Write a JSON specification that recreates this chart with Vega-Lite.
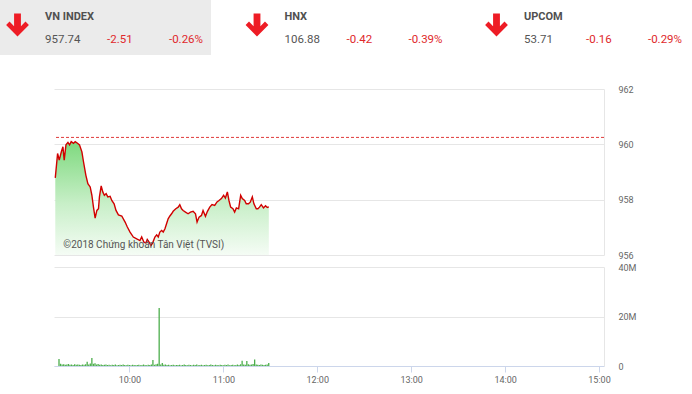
{
  "$schema": "https://vega.github.io/schema/vega-lite/v6.json",
  "padding": 0,
  "background": "#ffffff",
  "config": {"view": {"stroke": null}, "font": "Roboto", "axis": {"labelFont": "Roboto"}},
  "datasets": {
    "header": [
      {"idx": "VN INDEX", "val": "957.74", "chg": "-2.51", "pct": "-0.26%"},
      {"idx": "HNX", "val": "106.88", "chg": "-0.42", "pct": "-0.39%"},
      {"idx": "UPCOM", "val": "53.71", "chg": "-0.16", "pct": "-0.29%"}
    ],
    "price": [
      {"t": "09:15:48", "v": 958.79}, {"t": "09:17:15", "v": 959.67}, {"t": "09:18:18", "v": 959.43}, {"t": "09:19:36", "v": 959.73},
      {"t": "09:20:36", "v": 959.91}, {"t": "09:21:24", "v": 959.43}, {"t": "09:22:30", "v": 959.98}, {"t": "09:23:45", "v": 960.07},
      {"t": "09:24:45", "v": 959.98}, {"t": "09:25:48", "v": 960.10}, {"t": "09:27:15", "v": 960.04}, {"t": "09:28:18", "v": 960.10},
      {"t": "09:29:45", "v": 960.04}, {"t": "09:31:00", "v": 959.98}, {"t": "09:32:30", "v": 959.73}, {"t": "09:33:30", "v": 959.37},
      {"t": "09:35:00", "v": 958.88}, {"t": "09:36:15", "v": 958.58}, {"t": "09:37:42", "v": 958.46}, {"t": "09:38:45", "v": 958.16},
      {"t": "09:39:45", "v": 957.73}, {"t": "09:40:48", "v": 957.33}, {"t": "09:41:54", "v": 957.61}, {"t": "09:42:54", "v": 957.67},
      {"t": "09:43:30", "v": 958.10}, {"t": "09:44:36", "v": 958.50}, {"t": "09:45:36", "v": 958.28}, {"t": "09:46:36", "v": 958.16},
      {"t": "09:47:42", "v": 958.22}, {"t": "09:48:45", "v": 958.10}, {"t": "09:50:12", "v": 958.12}, {"t": "09:51:15", "v": 957.97},
      {"t": "09:52:42", "v": 957.85}, {"t": "09:53:54", "v": 957.61}, {"t": "09:55:24", "v": 957.45}, {"t": "09:57:30", "v": 957.41},
      {"t": "09:59:36", "v": 957.19}, {"t": "10:01:00", "v": 957.01}, {"t": "10:02:42", "v": 956.83}, {"t": "10:04:45", "v": 956.65},
      {"t": "10:06:54", "v": 956.58}, {"t": "10:08:54", "v": 956.52}, {"t": "10:10:00", "v": 956.65}, {"t": "10:11:24", "v": 956.46},
      {"t": "10:12:42", "v": 956.44}, {"t": "10:13:30", "v": 956.56}, {"t": "10:14:45", "v": 956.46}, {"t": "10:15:48", "v": 956.34},
      {"t": "10:16:54", "v": 956.44}, {"t": "10:18:18", "v": 956.65}, {"t": "10:19:24", "v": 956.73}, {"t": "10:20:24", "v": 956.65},
      {"t": "10:21:24", "v": 956.83}, {"t": "10:22:30", "v": 956.89}, {"t": "10:23:30", "v": 956.83}, {"t": "10:24:36", "v": 956.95},
      {"t": "10:25:36", "v": 957.13}, {"t": "10:26:36", "v": 957.31}, {"t": "10:27:42", "v": 957.41}, {"t": "10:28:45", "v": 957.49},
      {"t": "10:29:45", "v": 957.58}, {"t": "10:31:24", "v": 957.67}, {"t": "10:32:54", "v": 957.73}, {"t": "10:33:54", "v": 957.82},
      {"t": "10:35:00", "v": 957.67}, {"t": "10:36:00", "v": 957.61}, {"t": "10:37:30", "v": 957.55}, {"t": "10:39:06", "v": 957.49},
      {"t": "10:40:36", "v": 957.55}, {"t": "10:42:15", "v": 957.58}, {"t": "10:43:45", "v": 957.49}, {"t": "10:44:45", "v": 957.19},
      {"t": "10:46:00", "v": 957.37}, {"t": "10:47:30", "v": 957.43}, {"t": "10:48:30", "v": 957.61}, {"t": "10:50:00", "v": 957.40},
      {"t": "10:51:15", "v": 957.58}, {"t": "10:52:42", "v": 957.73}, {"t": "10:54:06", "v": 957.82}, {"t": "10:55:48", "v": 957.79},
      {"t": "10:57:15", "v": 957.92}, {"t": "10:58:30", "v": 957.97}, {"t": "11:00:00", "v": 958.04}, {"t": "11:01:24", "v": 958.16},
      {"t": "11:02:30", "v": 958.06}, {"t": "11:03:45", "v": 958.28}, {"t": "11:04:45", "v": 957.97}, {"t": "11:05:48", "v": 957.73},
      {"t": "11:07:15", "v": 957.67}, {"t": "11:08:18", "v": 957.55}, {"t": "11:09:24", "v": 957.70}, {"t": "11:10:48", "v": 957.67},
      {"t": "11:12:06", "v": 958.16}, {"t": "11:13:06", "v": 958.04}, {"t": "11:14:36", "v": 957.97}, {"t": "11:15:36", "v": 957.85},
      {"t": "11:17:00", "v": 957.85}, {"t": "11:18:06", "v": 957.91}, {"t": "11:19:24", "v": 958.10}, {"t": "11:20:24", "v": 957.85},
      {"t": "11:21:54", "v": 957.67}, {"t": "11:22:54", "v": 957.67}, {"t": "11:23:54", "v": 957.73}, {"t": "11:25:00", "v": 957.82},
      {"t": "11:26:24", "v": 957.70}, {"t": "11:27:42", "v": 957.78}, {"t": "11:28:45", "v": 957.72}, {"t": "11:29:45", "v": 957.74}
    ],
    "vol": [
      {"t": "09:15", "m": 2.8}, {"t": "09:16", "m": 0.9}, {"t": "09:17", "m": 0.6}, {"t": "09:18", "m": 0.7}, {"t": "09:19", "m": 0.5},
      {"t": "09:20", "m": 0.6}, {"t": "09:21", "m": 0.8}, {"t": "09:22", "m": 0.5}, {"t": "09:23", "m": 0.6}, {"t": "09:24", "m": 0.4},
      {"t": "09:25", "m": 0.7}, {"t": "09:26", "m": 0.5}, {"t": "09:27", "m": 0.6}, {"t": "09:28", "m": 0.5}, {"t": "09:29", "m": 0.4},
      {"t": "09:30", "m": 0.6}, {"t": "09:31", "m": 0.5}, {"t": "09:32", "m": 0.7}, {"t": "09:33", "m": 1.7}, {"t": "09:34", "m": 0.6},
      {"t": "09:35", "m": 1.0}, {"t": "09:36", "m": 3.2}, {"t": "09:37", "m": 0.9}, {"t": "09:38", "m": 1.1}, {"t": "09:39", "m": 0.6},
      {"t": "09:40", "m": 0.8}, {"t": "09:41", "m": 0.5}, {"t": "09:42", "m": 0.6}, {"t": "09:43", "m": 0.4}, {"t": "09:44", "m": 0.5},
      {"t": "09:45", "m": 0.6}, {"t": "09:46", "m": 0.4}, {"t": "09:47", "m": 0.5}, {"t": "09:48", "m": 0.3}, {"t": "09:49", "m": 0.5},
      {"t": "09:50", "m": 0.4}, {"t": "09:51", "m": 0.6}, {"t": "09:52", "m": 0.3}, {"t": "09:53", "m": 0.4}, {"t": "09:54", "m": 0.5},
      {"t": "09:55", "m": 0.4}, {"t": "09:56", "m": 0.6}, {"t": "09:57", "m": 0.4}, {"t": "09:58", "m": 0.3}, {"t": "09:59", "m": 0.5},
      {"t": "10:00", "m": 0.4}, {"t": "10:01", "m": 0.3}, {"t": "10:02", "m": 0.5}, {"t": "10:03", "m": 0.4}, {"t": "10:04", "m": 0.3},
      {"t": "10:05", "m": 0.4}, {"t": "10:06", "m": 0.5}, {"t": "10:07", "m": 0.3}, {"t": "10:08", "m": 0.4}, {"t": "10:09", "m": 0.6},
      {"t": "10:10", "m": 0.4}, {"t": "10:11", "m": 0.3}, {"t": "10:12", "m": 0.5}, {"t": "10:13", "m": 0.4}, {"t": "10:14", "m": 0.6},
      {"t": "10:15", "m": 2.4}, {"t": "10:16", "m": 0.5}, {"t": "10:17", "m": 0.7}, {"t": "10:18", "m": 0.9}, {"t": "10:19", "m": 23.4},
      {"t": "10:20", "m": 0.6}, {"t": "10:21", "m": 1.2}, {"t": "10:22", "m": 0.5}, {"t": "10:23", "m": 0.6}, {"t": "10:24", "m": 0.4},
      {"t": "10:25", "m": 0.5}, {"t": "10:26", "m": 0.3}, {"t": "10:27", "m": 0.4}, {"t": "10:28", "m": 0.5}, {"t": "10:29", "m": 0.3},
      {"t": "10:30", "m": 0.4}, {"t": "10:31", "m": 0.4}, {"t": "10:32", "m": 0.5}, {"t": "10:33", "m": 0.3}, {"t": "10:34", "m": 0.4},
      {"t": "10:35", "m": 0.6}, {"t": "10:36", "m": 0.4}, {"t": "10:37", "m": 0.3}, {"t": "10:38", "m": 0.5}, {"t": "10:39", "m": 0.4},
      {"t": "10:40", "m": 0.3}, {"t": "10:41", "m": 0.5}, {"t": "10:42", "m": 0.4}, {"t": "10:43", "m": 0.6}, {"t": "10:44", "m": 0.3},
      {"t": "10:45", "m": 0.4}, {"t": "10:46", "m": 0.5}, {"t": "10:47", "m": 0.3}, {"t": "10:48", "m": 0.4}, {"t": "10:49", "m": 0.5},
      {"t": "10:50", "m": 0.3}, {"t": "10:51", "m": 0.4}, {"t": "10:52", "m": 0.6}, {"t": "10:53", "m": 0.4}, {"t": "10:54", "m": 0.3},
      {"t": "10:55", "m": 0.5}, {"t": "10:56", "m": 0.4}, {"t": "10:57", "m": 0.3}, {"t": "10:58", "m": 0.5}, {"t": "10:59", "m": 0.4},
      {"t": "11:00", "m": 0.3}, {"t": "11:01", "m": 0.5}, {"t": "11:02", "m": 0.4}, {"t": "11:03", "m": 0.6}, {"t": "11:04", "m": 0.3},
      {"t": "11:05", "m": 0.4}, {"t": "11:06", "m": 0.5}, {"t": "11:07", "m": 0.3}, {"t": "11:08", "m": 0.4}, {"t": "11:09", "m": 0.6},
      {"t": "11:10", "m": 0.4}, {"t": "11:11", "m": 0.7}, {"t": "11:12", "m": 2.1}, {"t": "11:13", "m": 0.6}, {"t": "11:14", "m": 0.5},
      {"t": "11:15", "m": 2.0}, {"t": "11:16", "m": 0.7}, {"t": "11:17", "m": 0.5}, {"t": "11:18", "m": 0.6}, {"t": "11:19", "m": 0.8},
      {"t": "11:20", "m": 2.6}, {"t": "11:21", "m": 0.6}, {"t": "11:22", "m": 0.5}, {"t": "11:23", "m": 0.4}, {"t": "11:24", "m": 0.6},
      {"t": "11:25", "m": 0.5}, {"t": "11:26", "m": 0.4}, {"t": "11:27", "m": 0.5}, {"t": "11:28", "m": 0.6}, {"t": "11:29", "m": 1.2}
    ]
  },
  "spacing": 30,
  "vconcat": [
    {
      "width": 550,
      "height": 55,
      "data": {"name": "header"},
      "layer": [
        {
          "transform": [{"filter": "datum.idx === 'VN INDEX'"}],
          "mark": {"type": "bar", "width": 211, "xOffset": -14.25, "color": "#ebebeb"},
          "encoding": {
            "x": {"field": "idx", "type": "nominal", "axis": null,
                  "scale": {"domain": ["VN INDEX", "HNX", "UPCOM"], "range": [-54, 664.5], "paddingInner": 0, "paddingOuter": 0}}
          }
        },
        {
          "mark": {"type": "point", "shape": "M-0.3,-1 L0.3,-1 L0.3,0.12 L0.7,-0.3 L1,0 L0,1 L-1,0 L-0.7,-0.3 L-0.3,0.12 Z",
                   "size": 520, "filled": true, "color": "#ee1c25", "opacity": 1, "strokeWidth": 0, "xOffset": 17.5, "yOffset": -2.5},
          "encoding": {"x": {"field": "idx", "type": "nominal", "bandPosition": 0, "axis": null}}
        },
        {
          "mark": {"type": "text", "align": "left", "baseline": "middle", "dx": 45, "dy": -11, "fontSize": 11, "fontWeight": "bold", "color": "#505050"},
          "encoding": {"x": {"field": "idx", "type": "nominal", "bandPosition": 0, "axis": null}, "text": {"field": "idx"}}
        },
        {
          "mark": {"type": "text", "align": "left", "baseline": "middle", "dx": 45, "dy": 12.5, "fontSize": 11.5, "color": "#555555"},
          "encoding": {"x": {"field": "idx", "type": "nominal", "bandPosition": 0, "axis": null}, "text": {"field": "val"}}
        },
        {
          "mark": {"type": "text", "align": "left", "baseline": "middle", "dx": 107, "dy": 12.5, "fontSize": 11.5, "color": "#e0282b"},
          "encoding": {"x": {"field": "idx", "type": "nominal", "bandPosition": 0, "axis": null}, "text": {"field": "chg"}}
        },
        {
          "mark": {"type": "text", "align": "right", "baseline": "middle", "dx": 203, "dy": 12.5, "fontSize": 11.5, "color": "#e0282b"},
          "encoding": {"x": {"field": "idx", "type": "nominal", "bandPosition": 0, "axis": null}, "text": {"field": "pct"}}
        }
      ]
    },
    {
      "spacing": 12,
      "bounds": "flush",
      "vconcat": [
        {
          "width": 550,
          "height": 166,
          "layer": [
            {
              "data": {"name": "price", "format": {"parse": {"t": "utc:'%H:%M:%S'"}}},
              "layer": [
                {
                  "mark": {"type": "area", "fill": {"gradient": "linear", "x1": 0, "y1": 0, "x2": 0, "y2": 1,
                            "stops": [{"offset": 0, "color": "#7ed97e"}, {"offset": 0.55, "color": "#c8efc8"}, {"offset": 1, "color": "#f5fcf5"}]}},
                  "encoding": {
                    "x": {"field": "t", "type": "temporal"},
                    "y": {"field": "v", "type": "quantitative"},
                    "y2": {"datum": 956}
                  }
                },
                {
                  "mark": {"type": "line", "color": "#d10000", "strokeWidth": 1.4},
                  "encoding": {
                    "x": {"field": "t", "type": "temporal"},
                    "y": {"field": "v", "type": "quantitative"}
                  }
                }
              ]
            },
            {
              "data": {"values": [{"ref": 960.25}]},
              "mark": {"type": "rule", "stroke": "#e03c3c", "color": "#e03c3c", "strokeDash": [3, 2], "strokeWidth": 1},
              "encoding": {"y": {"field": "ref", "type": "quantitative"}}
            },
            {
              "data": {"values": [{"note": "©2018 Chứng khoán Tân Việt (TVSI)"}]},
              "mark": {"type": "text", "align": "left", "baseline": "middle", "fontSize": 10, "color": "#555555"},
              "encoding": {
                "text": {"field": "note"},
                "x": {"datum": {"year": 1900, "month": 1, "date": 1, "hours": 9, "minutes": 20, "seconds": 50, "utc": true}, "type": "temporal"},
                "y": {"datum": 956.35, "type": "quantitative"}
              }
            }
          ],
          "encoding": {
            "x": {"type": "temporal", "axis": null,
                  "scale": {"type": "utc", "domain": [{"year": 1900, "month": 1, "date": 1, "hours": 9, "minutes": 15, "utc": true}, {"year": 1900, "month": 1, "date": 1, "hours": 15, "minutes": 0, "utc": true}]}},
            "y": {"type": "quantitative", "title": null,
                  "scale": {"domain": [956, 962], "zero": false, "nice": false},
                  "axis": {"orient": "right", "values": [956, 958, 960, 962], "grid": true, "gridColor": "#e6e6e6", "domain": true, "domainColor": "#e6e6e6",
                           "ticks": false, "tickSize": 0, "labelPadding": 14, "labelFontSize": 9, "labelColor": "#666666", "labelBaseline": "middle"}}
          }
        },
        {
          "width": 550,
          "height": 99,
          "data": {"name": "vol", "format": {"parse": {"t": "utc:'%H:%M'"}}},
          "mark": {"type": "bar", "width": 1.3, "color": "#4cae4c"},
          "encoding": {
            "x": {"field": "t", "type": "temporal", "title": null,
                  "scale": {"type": "utc", "domain": [{"year": 1900, "month": 1, "date": 1, "hours": 9, "minutes": 15, "utc": true}, {"year": 1900, "month": 1, "date": 1, "hours": 15, "minutes": 0, "utc": true}]},
                  "axis": {"values": [
                      {"year": 1900, "month": 1, "date": 1, "hours": 10, "utc": true},
                      {"year": 1900, "month": 1, "date": 1, "hours": 11, "utc": true},
                      {"year": 1900, "month": 1, "date": 1, "hours": 12, "utc": true},
                      {"year": 1900, "month": 1, "date": 1, "hours": 13, "utc": true},
                      {"year": 1900, "month": 1, "date": 1, "hours": 14, "utc": true},
                      {"year": 1900, "month": 1, "date": 1, "hours": 15, "utc": true}],
                    "labelExpr": "utcFormat(datum.value, '%H:%M')", "labelFlush": false, "grid": false,
                    "domainColor": "#ccd6eb", "tickColor": "#ccd6eb", "tickSize": 6, "labelPadding": 3,
                    "labelFontSize": 9, "labelColor": "#666666"}},
            "y": {"field": "m", "type": "quantitative", "title": null,
                  "scale": {"domain": [0, 40], "nice": false},
                  "axis": {"orient": "right", "values": [0, 20, 40], "labelExpr": "datum.value == 0 ? '0' : datum.value + 'M'",
                           "grid": true, "gridColor": "#e6e6e6", "domain": true, "domainColor": "#e6e6e6",
                           "ticks": false, "tickSize": 0, "labelPadding": 14, "labelFontSize": 9, "labelColor": "#666666", "labelBaseline": "middle"}}
          }
        }
      ]
    }
  ]
}
